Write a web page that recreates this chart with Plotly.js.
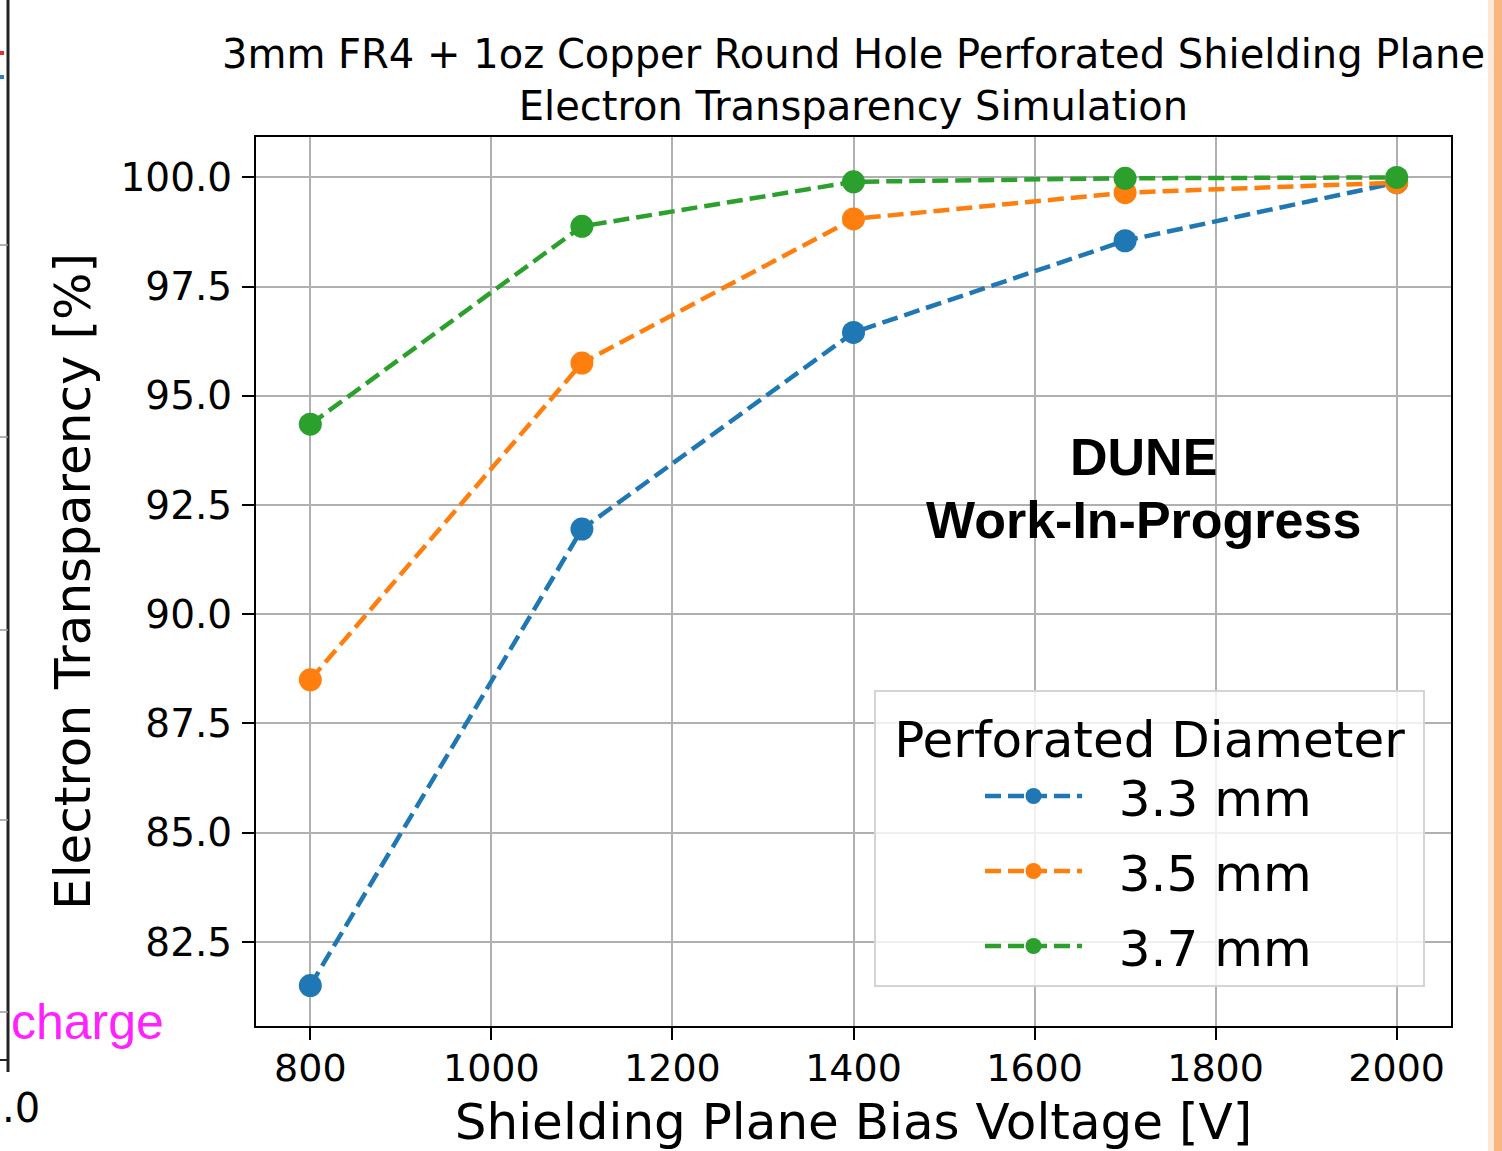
<!DOCTYPE html>
<html>
<head>
<meta charset="utf-8">
<script src="https://cdn.plot.ly/plotly-3.0.1.min.js"></script>
<style>
  html, body { margin: 0; padding: 0; background: #ffffff; }
  #chart { width: 1502px; height: 1151px; }
</style>
</head>
<body>
<div id="chart"></div>
<script>
// ---- data ----
const voltages = [800, 1100, 1400, 1700, 2000];
const seriesNames = ["3.3 mm", "3.5 mm", "3.7 mm"];
const transparency33 = [81.5, 91.95, 96.45, 98.55, 99.88];
const transparency35 = [88.5, 95.75, 99.05, 99.65, 99.88];
const transparency37 = [94.35, 98.88, 99.9, 99.98, 100.0];
const xTicks = [800, 1000, 1200, 1400, 1600, 1800, 2000];
const yTicks = [82.5, 85.0, 87.5, 90.0, 92.5, 95.0, 97.5, 100.0];
const legendTitle = "Perforated Diameter";

const colors = ["#1f77b4", "#ff7f0e", "#2ca02c"];
const seriesValues = [transparency33, transparency35, transparency37];

// ---- layout geometry (pixels) ----
const W = 1502, H = 1151;
const M = { l: 256, r: 51, t: 137, b: 125 };
const plotW = W - M.l - M.r, plotH = H - M.t - M.b;
const px = x => (x - M.l) / plotW;           // pixel x -> paper x
const py = y => (H - M.b - y) / plotH;       // pixel y -> paper y
const NB = "\u00a0";

const traces = seriesValues.map((vals, i) => ({
  type: "scatter",
  mode: "lines+markers",
  x: voltages,
  y: vals,
  name: NB + NB + seriesNames[i],
  legendgroup: "g" + i,
  line: { color: colors[i], width: 4.5, dash: "16px,7px" },
  marker: { color: colors[i], size: 23 },
  cliponaxis: false
}));

const layout = {
  width: W, height: H,
  margin: M,
  paper_bgcolor: "#ffffff",
  plot_bgcolor: "#ffffff",
  font: { family: "DejaVu Sans, sans-serif", color: "#000000" },
  showlegend: true,
  title: {
    text: "3mm FR4 + 1oz Copper Round Hole Perforated Shielding Plane<br>Electron Transparency Simulation",
    font: { family: "DejaVu Sans", size: 40, color: "#000000" },
    x: px(853.5), xref: "paper", xanchor: "center",
    y: 1 - 68 / H, yref: "container", yanchor: "middle"
  },
  xaxis: {
    range: [740, 2060],
    tickmode: "array", tickvals: xTicks, ticktext: xTicks.map(String),
    ticks: "outside", ticklen: 12, tickwidth: 2, tickcolor: "#000000",
    tickfont: { family: "DejaVu Sans", size: 38, color: "#000000" },
    ticklabelstandoff: -5,
    showline: true, mirror: true, linecolor: "#000000", linewidth: 2,
    showgrid: true, gridcolor: "#b0b0b0", gridwidth: 2,
    zeroline: false,
    title: { text: "Shielding Plane Bias Voltage [V]", font: { family: "DejaVu Sans", size: 50, color: "#000000" }, standoff: 22 }
  },
  yaxis: {
    range: [80.575, 100.925],
    tickmode: "array", tickvals: yTicks, ticktext: yTicks.map(v => v.toFixed(1)),
    ticks: "outside", ticklen: 12, tickwidth: 2, tickcolor: "#000000",
    tickfont: { family: "DejaVu Sans", size: 39, color: "#000000" },
    ticklabelstandoff: 2,
    showline: true, mirror: true, linecolor: "#000000", linewidth: 2,
    showgrid: true, gridcolor: "#b0b0b0", gridwidth: 2,
    zeroline: false,
    title: { text: "Electron Transparency [%]", font: { family: "DejaVu Sans", size: 50, color: "#000000" }, standoff: 14 }
  },
  legend: {
    x: px(874), y: py(690), xanchor: "left", yanchor: "top",
    bgcolor: "rgba(255,255,255,0.8)", bordercolor: "#d4d4d4", borderwidth: 2,
    font: { family: "DejaVu Sans", size: 50, color: "#000000" },
    title: { text: NB + legendTitle + NB, side: "top center", font: { family: "DejaVu Sans", size: 50, color: "#000000" } },
    itemwidth: 97,
    itemsizing: "trace",
    indentation: 104,
    tracegroupgap: 7
  },
  annotations: [
    { text: "<b>DUNE</b>", xref: "x", yref: "y", x: 1720, y: 100 - (457 - 177) / 43.77,
      showarrow: false, xanchor: "center", yanchor: "middle",
      font: { family: "Liberation Sans, Arial, sans-serif", size: 52, color: "#000000" } },
    { text: "<b>Work-In-Progress</b>", xref: "x", yref: "y", x: 1720, y: 100 - (520 - 177) / 43.77,
      showarrow: false, xanchor: "center", yanchor: "middle",
      font: { family: "Liberation Sans, Arial, sans-serif", size: 52, color: "#000000" } },
    // slide remnants at the left edge
    { text: "charge", xref: "paper", yref: "paper", x: px(9), y: py(1022),
      showarrow: false, xanchor: "left", yanchor: "middle",
      font: { family: "Liberation Sans, Arial, sans-serif", size: 50, color: "#ff22ff" } },
    { text: ".0", xref: "paper", yref: "paper", x: px(0), y: py(1108),
      showarrow: false, xanchor: "left", yanchor: "middle",
      font: { family: "DejaVu Sans", size: 40, color: "#000000" } }
  ],
  shapes: [
    { type: "line", xref: "paper", yref: "paper", x0: px(8), x1: px(8), y0: py(0), y1: py(1072),
      line: { color: "#222222", width: 3 } },
    { type: "line", xref: "paper", yref: "paper", x0: px(0), x1: px(8), y0: py(245), y1: py(245), line: { color: "#999999", width: 1.5 } },
    { type: "line", xref: "paper", yref: "paper", x0: px(0), x1: px(8), y0: py(437), y1: py(437), line: { color: "#999999", width: 1.5 } },
    { type: "line", xref: "paper", yref: "paper", x0: px(0), x1: px(8), y0: py(630), y1: py(630), line: { color: "#999999", width: 1.5 } },
    { type: "line", xref: "paper", yref: "paper", x0: px(0), x1: px(8), y0: py(820), y1: py(820), line: { color: "#999999", width: 1.5 } },
    { type: "line", xref: "paper", yref: "paper", x0: px(0), x1: px(8), y0: py(1012), y1: py(1012), line: { color: "#999999", width: 1.5 } },
    { type: "line", xref: "paper", yref: "paper", x0: px(0), x1: px(8), y0: py(1060), y1: py(1060), line: { color: "#222222", width: 2 } },
    { type: "line", xref: "paper", yref: "paper", x0: px(0), x1: px(4), y0: py(53), y1: py(53), line: { color: "#e03030", width: 4 } },
    { type: "line", xref: "paper", yref: "paper", x0: px(0), x1: px(4), y0: py(77), y1: py(77), line: { color: "#2a7fd0", width: 4 } },
    // orange glow at the right edge
    { type: "rect", xref: "paper", yref: "paper", x0: px(1488), x1: px(1494), y0: py(0), y1: py(H),
      line: { width: 0 }, fillcolor: "rgba(250,190,140,0.35)" },
    { type: "rect", xref: "paper", yref: "paper", x0: px(1494), x1: px(1502), y0: py(0), y1: py(H),
      line: { width: 0 }, fillcolor: "rgba(248,170,105,0.85)" }
  ]
};

Plotly.newPlot("chart", traces, layout, { displayModeBar: false, staticPlot: true });
</script>
</body>
</html>
